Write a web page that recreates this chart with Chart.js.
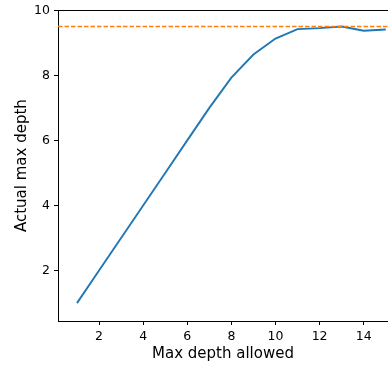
<!DOCTYPE html>
<html>
<head>
<meta charset="utf-8">
<script src="https://cdn.jsdelivr.net/npm/chart.js@4/dist/chart.umd.min.js"></script>
<style>
  html, body { margin: 0; padding: 0; background: #fff; }
</style>
</head>
<body>
<canvas id="depthChart" width="388" height="365"></canvas>
<script>
/* global Chart */

// values
const depthAllowed = [1, 2, 3, 4, 5, 6, 7, 8, 9, 10, 11, 12, 13, 14, 15];
const actualDepth = [1, 2, 3, 4, 5, 6, 7, 7.93, 8.64, 9.13, 9.42, 9.45, 9.5, 9.37, 9.41];
const refDepth = 9.5;

// axis ranges and tick labels
const xRange = [0.14, 15.1];
const yRange = [0.45, 10];
const xTicks = [2, 4, 6, 8, 10, 12, 14];
const yTicks = [2, 4, 6, 8, 10];

const FONT = 'DejaVu Sans';

const ctx = document.getElementById('depthChart');
const myChart = new Chart(ctx, {
  type: 'line',
  data: {
    datasets: [
      {
        label: 'reference',
        data: xRange.map((x) => ({ x, y: refDepth })),
        borderColor: '#ff7f0e',
        borderWidth: 1.3,
        borderDash: [4.5, 2],
        pointRadius: 0,
        order: 0,
      },
      {
        label: 'actual',
        data: depthAllowed.map((x, i) => ({ x, y: actualDepth[i] })),
        borderColor: '#1f77b4',
        borderWidth: 1.9,
        pointRadius: 0,
        tension: 0,
        order: 1,
      },
    ],
  },
  options: {
    responsive: false,
    animation: false,
    layout: {
      padding: { top: 7, right: 0, bottom: 0, left: 0 },
    },
    plugins: {
      legend: { display: false },
      tooltip: { enabled: false },
    },
    scales: {
      x: {
        type: 'linear',
        position: 'bottom',
        min: xRange[0],
        max: xRange[1],
        afterBuildTicks: (scale) => { scale.ticks = xTicks.map((v) => ({ value: v })); },
        afterFit: (scale) => { scale.height = 44; },
        grid: {
          drawOnChartArea: false,
          drawTicks: true,
          tickLength: 4,
          tickColor: '#000',
        },
        border: { display: true, color: '#000', width: 1 },
        ticks: {
          padding: 4,
          color: '#000',
          font: { family: FONT, size: 12.5 },
          maxRotation: 0,
        },
        title: {
          display: true,
          text: 'Max depth allowed',
          color: '#000',
          font: { family: FONT, size: 15 },
          padding: { top: 0, bottom: 1.5 },
        },
      },
      xTop: {
        type: 'linear',
        position: 'top',
        min: xRange[0],
        max: xRange[1],
        afterFit: (scale) => { scale.height = 0; },
        grid: { display: false, drawTicks: false },
        ticks: { display: false },
        border: { display: true, color: '#000', width: 1 },
      },
      y: {
        type: 'linear',
        position: 'left',
        min: yRange[0],
        max: yRange[1],
        afterBuildTicks: (scale) => { scale.ticks = yTicks.map((v) => ({ value: v })); },
        afterFit: (scale) => { scale.width = 58; },
        grid: {
          drawOnChartArea: false,
          drawTicks: true,
          tickLength: 4,
          tickColor: '#000',
        },
        border: { display: true, color: '#000', width: 1 },
        ticks: {
          padding: 4,
          color: '#000',
          font: { family: FONT, size: 12.5, lineHeight: 1 },
        },
        title: {
          display: true,
          text: 'Actual max depth',
          color: '#000',
          font: { family: FONT, size: 15 },
          padding: { top: 13, bottom: 0 },
        },
      },
    },
  },
});
</script>
</body>
</html>
